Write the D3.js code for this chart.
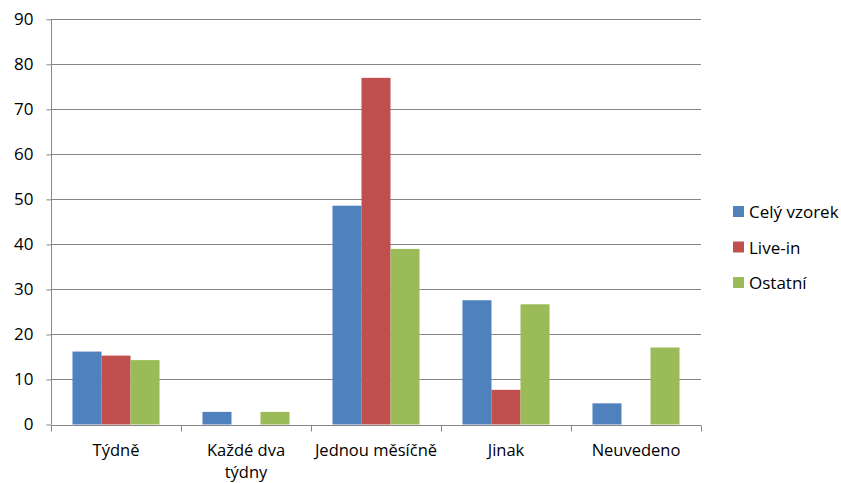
<!DOCTYPE html>
<html><head><meta charset="utf-8">
<script src="https://cdn.jsdelivr.net/npm/d3@7"></script>
<style>body{margin:0;background:#fff}svg{display:block}</style>
</head><body>
<svg id="c" width="841" height="483"></svg>
<script>
const categories = ["Týdně", "Každé dva týdny", "Jednou měsíčně", "Jinak", "Neuvedeno"];
const seriesNames = ["Celý vzorek", "Live-in", "Ostatní"];
const celyVzorek = [16.2, 2.8, 48.6, 27.6, 4.7];
const liveIn = [15.3, 0, 77.0, 7.7, 0];
const ostatni = [14.3, 2.8, 39.0, 26.7, 17.1];
const colors = ["#4F81BD", "#C0504D", "#9BBB59"];
const yTicks = [0, 10, 20, 30, 40, 50, 60, 70, 80, 90];

const series = [celyVzorek, liveIn, ostatni];
const svg = d3.select("#c");
const font = "'Open Sans', sans-serif";
const fs = 17;
const m = {l: 51, r: 701, t: 19.3, b: 424.5};

const x = d3.scaleBand().domain(categories).range([m.l, m.r]).paddingInner(0).paddingOuter(0);
const x1 = d3.scaleBand().domain(d3.range(3)).range([0, x.bandwidth()]).paddingInner(0).paddingOuter(0.74);
const y = d3.scaleLinear().domain([0, 90]).range([m.b, m.t]);

// gridlines
svg.append("g").selectAll("line").data(yTicks).join("line")
  .attr("x1", m.l).attr("x2", m.r)
  .attr("y1", d => Math.round(y(d)) + 0.5).attr("y2", d => Math.round(y(d)) + 0.5)
  .attr("stroke", "#868686").attr("stroke-width", 1);

// bars
const g = svg.append("g");
categories.forEach((c, i) => {
  series.forEach((s, j) => {
    if (!s[i]) return;
    g.append("rect")
      .attr("x", x(c) + x1(j)).attr("width", x1.bandwidth())
      .attr("y", y(s[i])).attr("height", y(0) - y(s[i]))
      .attr("fill", colors[j]);
  });
});

// y axis
const ya = svg.append("g").attr("transform", `translate(${m.l + 0.5},0)`)
  .call(d3.axisLeft(y).tickValues(yTicks).tickSize(5).tickPadding(13));
ya.select(".domain").attr("stroke", "#868686").attr("d", `M0,${m.t}V${m.b}`);
ya.selectAll(".tick line").attr("stroke", "#868686");
ya.selectAll("text").attr("font-family", font).attr("font-size", fs).attr("fill", "#000");

// x axis
const xa = svg.append("g").attr("transform", `translate(0,${Math.round(m.b) + 0.5})`);
xa.append("line").attr("x1", m.l).attr("x2", m.r).attr("stroke", "#868686");
const bounds = d3.range(categories.length + 1).map(i => m.l + i * x.bandwidth());
xa.selectAll("line.t").data(bounds).join("line").attr("class", "t")
  .attr("x1", d => Math.round(d) + 0.5).attr("x2", d => Math.round(d) + 0.5)
  .attr("y1", 0).attr("y2", 6).attr("stroke", "#868686");

const labelLines = {"Každé dva týdny": ["Každé dva", "týdny"]};
categories.forEach(c => {
  const lines = labelLines[c] || [c];
  const t = svg.append("text").attr("x", x(c) + x.bandwidth() / 2).attr("y", 456)
    .attr("text-anchor", "middle").attr("font-family", font).attr("font-size", 16.5).attr("fill", "#000");
  lines.forEach((l, k) => t.append("tspan").attr("x", x(c) + x.bandwidth() / 2).attr("dy", k ? 22 : 0).text(l));
});

// legend
const lg = svg.append("g");
seriesNames.forEach((n, i) => {
  const yy = 212 + i * 35.5;
  lg.append("rect").attr("x", 733).attr("y", yy - 6).attr("width", 11).attr("height", 11).attr("fill", colors[i]);
  lg.append("text").attr("x", 749).attr("y", yy + 6).attr("font-family", font).attr("font-size", fs).attr("fill", "#000").text(n);
});
</script>
</body></html>
